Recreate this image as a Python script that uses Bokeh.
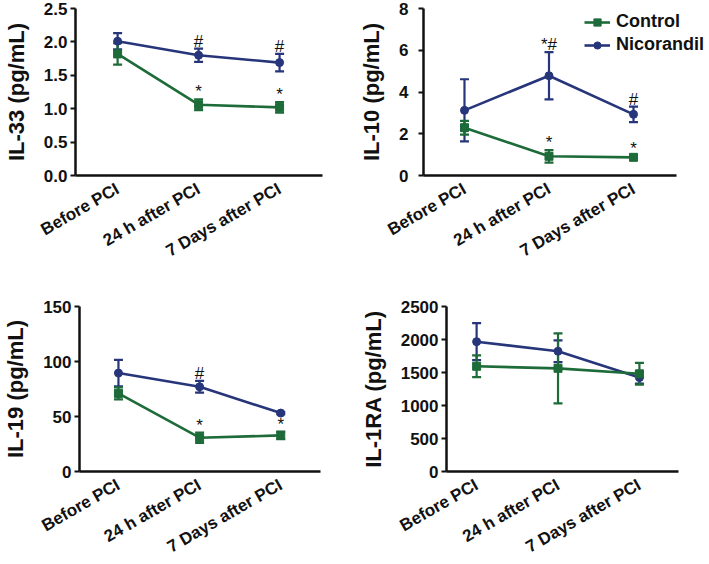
import math
from bokeh.plotting import figure
from bokeh.models import (ColumnDataSource, Whisker, TeeHead, Legend, LegendItem,
                          FixedTicker, NumeralTickFormatter, Range1d)
from bokeh.layouts import column, row
from bokeh.embed import file_html
from bokeh.resources import INLINE
from bokeh.core.properties import value

categories = ["Before PCI", "24 h after PCI", "7 Days after PCI"]

il33_control = [1.82, 1.06, 1.02]
il33_control_err = [0.16, 0.08, 0.08]
il33_nicorandil = [2.01, 1.80, 1.69]
il33_nicorandil_err = [0.12, 0.10, 0.13]
il33_control_marks = ["", "*", "*"]
il33_nicorandil_marks = ["", "#", "#"]

il10_control = [2.29, 0.92, 0.87]
il10_control_err = [0.33, 0.30, 0.06]
il10_nicorandil = [3.12, 4.78, 2.93]
il10_nicorandil_err = [1.49, 1.13, 0.37]
il10_control_marks = ["", "*", "*"]
il10_nicorandil_marks = ["", "*#", "#"]

il19_control = [71.0, 30.7, 32.8]
il19_control_err = [5.5, 4.7, 3.5]
il19_nicorandil = [89.5, 77.0, 53.1]
il19_nicorandil_err = [12.0, 5.3, 1.0]
il19_control_marks = ["", "*", "*"]
il19_nicorandil_marks = ["", "#", ""]

il1ra_control = [1594, 1563, 1480]
il1ra_control_err = [165, 530, 165]
il1ra_nicorandil = [1967, 1822, 1423]
il1ra_nicorandil_err = [280, 165, 90]
il1ra_control_marks = ["", "", ""]
il1ra_nicorandil_marks = ["", "", ""]

GREEN = "#1d6b38"
BLUE = "#27357a"
FONT = "Liberation Sans"
xpos = list(range(len(categories)))


def panel(title, ctrl, ctrl_err, ctrl_marks, nico, nico_err, nico_marks,
          y_end, y_ticks, fmt, x_lo, x_hi, x_end, fw, fh, bl, br, bt, bb,
          ylab_standoff=3, legend_loc=None):
    p = figure(x_range=Range1d(x_lo, x_end), y_range=Range1d(0, y_end),
               frame_width=fw, frame_height=fh, output_backend="svg",
               toolbar_location=None, min_border_left=bl, min_border_right=br,
               min_border_top=bt, min_border_bottom=bb)
    p.grid.visible = False
    p.outline_line_color = None

    renderers = {}
    for name, vals, errs, marks, color, marker in [
        ("Nicorandil", nico, nico_err, nico_marks, BLUE, "circle"),
        ("Control", ctrl, ctrl_err, ctrl_marks, GREEN, "square"),
    ]:
        src = ColumnDataSource(dict(
            x=xpos, y=vals,
            upper=[v + e for v, e in zip(vals, errs)],
            lower=[v - e for v, e in zip(vals, errs)],
            marks=marks))
        w = Whisker(base="x", upper="upper", lower="lower", source=src,
                    line_color=color, line_width=2.2,
                    upper_head=TeeHead(size=9, line_color=color, line_width=2.2),
                    lower_head=TeeHead(size=9, line_color=color, line_width=2.2))
        p.add_layout(w)
        ln = p.line("x", "y", source=src, line_color=color, line_width=2.6)
        sc = p.scatter("x", "y", source=src, marker=marker, size=8,
                       fill_color=color, line_color=color)
        p.text("x", "upper", text="marks", source=src, text_align="center",
               text_baseline="bottom", y_offset=2,
               text_font=value(FONT), text_font_size="17px", text_color="#111111")
        renderers[name] = [ln, sc]

    p.xaxis.ticker = FixedTicker(ticks=xpos)
    p.xaxis.major_label_overrides = {i: c for i, c in zip(xpos, categories)}
    p.xaxis.bounds = (x_lo, x_hi)
    p.yaxis.ticker = FixedTicker(ticks=y_ticks)
    p.yaxis.formatter = NumeralTickFormatter(format=fmt)
    p.yaxis.axis_label = title
    for ax in (p.xaxis[0], p.yaxis[0]):
        ax.axis_line_width = 2.5
        ax.axis_line_color = "#111111"
        ax.major_tick_line_width = 2
        ax.major_tick_line_color = "#111111"
        ax.major_tick_in = 0
        ax.major_tick_out = 5
        ax.minor_tick_line_color = None
        ax.minor_tick_out = 0
        ax.minor_tick_in = 0
        ax.major_label_text_font = FONT
        ax.major_label_text_font_style = "bold"
        ax.major_label_text_color = "#111111"
    p.xaxis.major_tick_line_color = None
    p.xaxis.major_tick_out = 0
    p.xaxis.major_label_text_font_size = "17px"
    p.xaxis.major_label_orientation = math.pi / 6
    p.xaxis.major_label_standoff = 12
    p.yaxis.major_label_text_font_size = "17px"
    p.yaxis.major_label_standoff = ylab_standoff
    p.yaxis.axis_label_text_font = FONT
    p.yaxis.axis_label_text_font_style = "bold"
    p.yaxis.axis_label_text_font_size = "22px"
    p.yaxis.axis_label_text_color = "#111111"
    p.yaxis.axis_label_standoff = 12

    if legend_loc is not None:
        leg = Legend(items=[LegendItem(label="Control", renderers=renderers["Control"]),
                            LegendItem(label="Nicorandil", renderers=renderers["Nicorandil"])],
                     location=legend_loc, padding=0, margin=0, spacing=2,
                     glyph_width=26, glyph_height=18, label_height=18,
                     label_standoff=6,
                     label_text_font=FONT, label_text_font_style="bold",
                     label_text_font_size="18px", label_text_color="#111111",
                     border_line_color=None, background_fill_alpha=0)
        p.add_layout(leg)
    return p


p1 = panel("IL-33 (pg/mL)", il33_control, il33_control_err, il33_control_marks,
           il33_nicorandil, il33_nicorandil_err, il33_nicorandil_marks,
           2.5, [0, 0.5, 1.0, 1.5, 2.0, 2.5], "0.0",
           -0.52, 2.53, 2.53, 247, 167, 73, 34, 8, 105)
p2 = panel("IL-10 (pg/mL)", il10_control, il10_control_err, il10_control_marks,
           il10_nicorandil, il10_nicorandil_err, il10_nicorandil_marks,
           8, [0, 2, 4, 6, 8], "0",
           -0.485, 2.51, 2.923, 288, 167, 63, 0, 8, 105,
           ylab_standoff=10, legend_loc=(161, 120))
p3 = panel("IL-19 (pg/mL)", il19_control, il19_control_err, il19_control_marks,
           il19_nicorandil, il19_nicorandil_err, il19_nicorandil_marks,
           150, [0, 50, 100, 150], "0",
           -0.48, 2.49, 2.49, 241, 165, 76, 37, 26, 91)
p4 = panel("IL-1RA (pg/mL)", il1ra_control, il1ra_control_err, il1ra_control_marks,
           il1ra_nicorandil, il1ra_nicorandil_err, il1ra_nicorandil_marks,
           2500, [0, 500, 1000, 1500, 2000, 2500], "0",
           -0.37, 2.48, 2.48, 232, 165, 83, 36, 26, 91)

layout = column(row(p1, p2, spacing=0), row(p3, p4, spacing=0), spacing=0)
open("out.html", "w").write(file_html(layout, INLINE))
